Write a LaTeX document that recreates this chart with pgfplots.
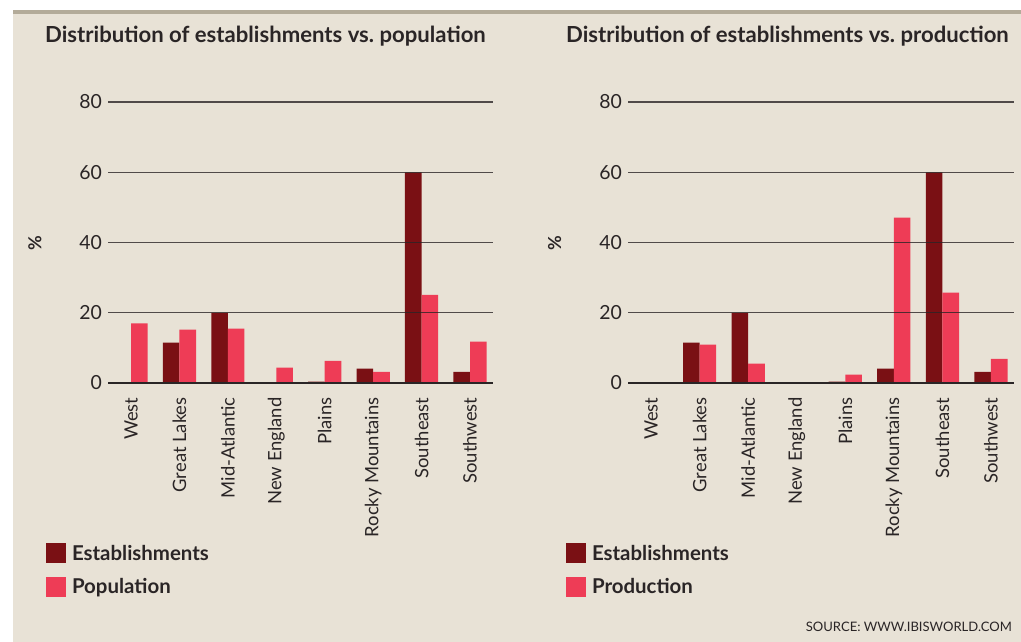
\documentclass[border=0pt]{standalone}
\usepackage{fontspec}
\setmainfont{Lato}
\usepackage{pgfplots}
\usepackage{pgfplotstable}
\pgfplotsset{compat=1.18}
\definecolor{bg}{HTML}{E8E2D6}
\definecolor{topbar}{HTML}{B3AB99}
\definecolor{est}{HTML}{7A1014}
\definecolor{pop}{HTML}{EE3C56}
\definecolor{txt}{HTML}{2A2526}

\pgfplotstableread{
x est pop prod
0 0 17 0
1 11.5 15.2 10.9
2 20 15.5 5.5
3 0 4.4 0
4 0.4 6.3 2.4
5 4.1 3.2 47.1
6 60 25.1 25.7
7 3.2 11.8 6.9
}\data

\pgfplotsset{
 panel/.style={
  scale only axis, height=281bp,
  xmin=-0.475, xmax=7.475, ymin=0, ymax=80,
  ybar=0pt, bar width=16.6bp,
  axis on top,
  axis line style={draw=none}, tick style={draw=none},
  xtick={0,...,7},
  xticklabels={West,Great Lakes,Mid-Atlantic,New England,Plains,Rocky Mountains,Southeast,Southwest},
  xticklabel style={rotate=90, anchor=east, inner sep=0pt, font=\fontsize{18.5}{19}\selectfont, text=txt},
  xticklabel shift=10bp,
  ytick={20,40,60,80},
  extra y ticks={0},
  extra y tick style={grid style={line width=2.6bp, color=txt, opacity=1}},
  ymajorgrids,
  grid style={line width=1.3bp, color=txt, opacity=0.8},
  yticklabel style={anchor=east, inner sep=0pt, font=\fontsize{19.5}{19.5}\selectfont, text=txt},
  yticklabel shift=6bp,
  /pgf/number format/assume math mode=true,
  ylabel={\%},
  ylabel style={at={(axis description cs:-0.19,0.498)}, anchor=center, font=\bfseries\fontsize{18}{18}\selectfont, text=txt},
  title style={anchor=base west, inner sep=0pt, font=\bfseries\fontsize{22.2}{22.2}\selectfont, text=txt},
  legend style={anchor=north west, draw=none, fill=none, inner sep=0pt, outer sep=0pt,
    row sep=13bp, font=\bfseries\fontsize{20.5}{20.5}\selectfont, text=txt,
    /tikz/every odd column/.style={column sep=4bp}},
  legend cell align=left,
  legend image code/.code={\fill[##1] (0bp,-10bp) rectangle (20bp,10bp);},
 }
}

\begin{document}
\begin{tikzpicture}[x=1bp,y=1bp]
\fill[white] (0,0) rectangle (1021,-642);
\fill[bg] (13,-14) rectangle (1021,-642);
\fill[topbar] (13,-10) rectangle (1021,-14.5);

\begin{axis}[panel, at={(108bp,-383bp)}, anchor=south west, width=385bp,
  title={Distribution of establishments vs.\ population},
  title style={at={(axis description cs:-0.1636,1.192)}},
  legend style={at={(axis description cs:-0.161,-0.569)}}]
\addplot[fill=est, draw=none] table[x=x,y=est]{\data};
\addplot[fill=pop, draw=none] table[x=x,y=pop]{\data};
\legend{Establishments,Population}
\end{axis}

\begin{axis}[panel, at={(628bp,-383bp)}, anchor=south west, width=386bp,
  title={Distribution of establishments vs.\ production},
  title style={at={(axis description cs:-0.1606,1.192)}},
  legend style={at={(axis description cs:-0.1606,-0.569)}}]
\addplot[fill=est, draw=none] table[x=x,y=est]{\data};
\addplot[fill=pop, draw=none] table[x=x,y=prod]{\data};
\legend{Establishments,Production}
\end{axis}

\node[anchor=east, inner sep=0pt, text=txt, font=\fontsize{13.1}{14}\selectfont] at (1012,-627) {SOURCE: WWW.IBISWORLD.COM};
\end{tikzpicture}
\end{document}
